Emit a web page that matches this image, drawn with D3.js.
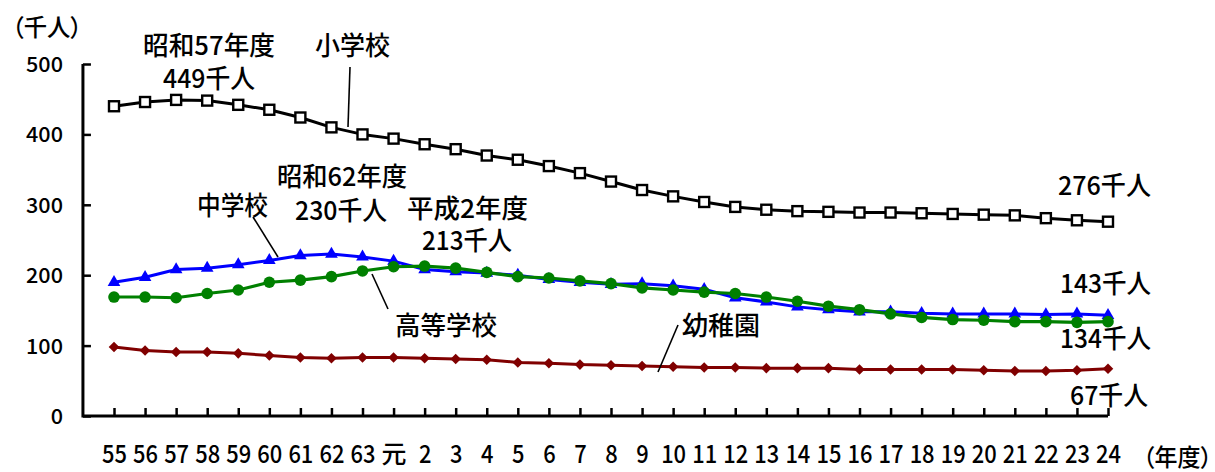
<!DOCTYPE html>
<html>
<head>
<meta charset="utf-8">
<script src="https://cdn.jsdelivr.net/npm/d3@7/dist/d3.min.js"></script>
<style>
  html, body { margin: 0; padding: 0; background: #fff; }
  svg { display: block; }
  text { font-family: "Noto Sans CJK JP", "Noto Sans", sans-serif; fill: #000; font-weight: 500; }
  .palt { font-feature-settings: "palt"; }
</style>
</head>
<body>
<div id="chart"></div>
<script>
// ---- data ----
const categories = ["55","56","57","58","59","60","61","62","63","元",
  "2","3","4","5","6","7","8","9","10","11","12","13","14","15","16","17","18","19","20","21","22","23","24"];
const elementary = [440,446,449,448,442,435,424,410,400,394,
  386,379,370,364,355,345,333,321,312,304,297,293,291,290,289,289,288,287,286,285,281,278,276];
const juniorHigh = [190,197,208,210,215,221,228,230,226,220,
  208,205,203,200,194,190,187,188,185,180,168,162,155,151,148,148,146,145,145,145,144,145,143];
const highSchool = [169,169,168,174,179,190,193,198,206,212,
  213,210,204,198,196,192,188,182,179,176,174,169,163,156,151,145,140,137,136,134,134,133,134];
const kindergarten = [98,93,91,91,89,86,83,82,83,83,
  82,81,80,76,75,73,72,71,70,69,69,68,68,68,66,66,66,66,65,64,64,65,67];
const yTicks = [0,100,200,300,400,500];
const seriesNames = ["小学校","中学校","高等学校","幼稚園"];

// ---- layout ----
const W = 1215, H = 472;
const svg = d3.select("#chart").append("svg").attr("width", W).attr("height", H);

const x = d3.scalePoint().domain(categories).range([114, 1108]);
const y = d3.scaleLinear().domain([0, 500]).range([416, 64]);
const x0 = x(categories[0]) - x.step();
const xEnd = x(categories[categories.length - 1]);

// ---- axes ----
const yAxis = d3.axisLeft(y).tickValues(yTicks).tickSizeInner(-8).tickSizeOuter(0).tickPadding(20);
const gy = svg.append("g").attr("transform", `translate(${x0},0)`).call(yAxis);
gy.select(".domain").remove();
gy.selectAll(".tick line").attr("stroke", "#000").attr("stroke-width", 2.5);
gy.selectAll(".tick text")
  .attr("font-size", 21)
  .attr("font-family", null)
  .attr("dy", "0.36em")
  .attr("x", -20)
  .attr("textLength", d => String(d).length * 12.3)
  .attr("lengthAdjust", "spacingAndGlyphs");

const xAxis = d3.axisBottom(x).tickSizeInner(-8).tickSizeOuter(0);
const gx = svg.append("g").attr("transform", `translate(0,${y(0)})`).call(xAxis);
gx.select(".domain").remove();
gx.selectAll(".tick line").attr("stroke", "#000").attr("stroke-width", 2.5);
gx.selectAll(".tick text")
  .attr("font-size", 25)
  .attr("y", 47)
  .attr("dy", 0)
  .attr("textLength", d => /[0-9]/.test(d) ? d.length * 12.5 : 25)
  .attr("lengthAdjust", "spacingAndGlyphs");
svg.selectAll("g").attr("font-family", null);

// axis lines
svg.append("path")
  .attr("d", `M${x0},${y(500)}V${y(0)}H${xEnd}`)
  .attr("fill", "none").attr("stroke", "#000").attr("stroke-width", 3);

// ---- series ----
const line = d3.line().x((d, i) => x(categories[i])).y(d => y(d));

function drawSeries(values, color, lw, marker) {
  const g = svg.append("g");
  g.append("path").datum(values).attr("d", line)
    .attr("fill", "none").attr("stroke", color).attr("stroke-width", lw)
    .attr("stroke-linejoin", "round");
  const pts = g.selectAll(".pt").data(values).join("g")
    .attr("transform", (d, i) => `translate(${x(categories[i])},${y(d)})`);
  marker(pts);
}

// 小学校: white squares with black border
drawSeries(elementary, "#000", 3, sel => sel.append("rect")
  .attr("x", -5).attr("y", -5).attr("width", 10).attr("height", 10)
  .attr("fill", "#fff").attr("stroke", "#000").attr("stroke-width", 2.4));

// 中学校: blue triangles
drawSeries(juniorHigh, "#0000ff", 3, sel => sel.append("path")
  .attr("d", d3.symbol(d3.symbolTriangle, 70)).attr("fill", "#0000ff"));

// 高等学校: green circles
drawSeries(highSchool, "#008000", 3.2, sel => sel.append("circle")
  .attr("r", 5.8).attr("fill", "#008000"));

// 幼稚園: dark red diamonds
drawSeries(kindergarten, "#800000", 3, sel => sel.append("path")
  .attr("d", d3.symbol(d3.symbolSquare, 56)).attr("transform", "rotate(45)")
  .attr("fill", "#800000"));

// ---- leader lines ----
const leaders = [
  [350, 67, 348, 127],
  [253, 217, 278, 257],
  [372, 274, 388, 309],
  [678, 325, 658, 372]
];
svg.selectAll(".leader").data(leaders).join("line")
  .attr("x1", d => d[0]).attr("y1", d => d[1]).attr("x2", d => d[2]).attr("y2", d => d[3])
  .attr("stroke", "#000").attr("stroke-width", 1.6);

// ---- annotations ----
const annotations = [
  { t: "昭和57年度", x: 143, y: 55, w: 132 },
  { t: "449千人", x: 163, y: 88, w: 92 },
  { t: seriesNames[0], x: 315, y: 55, w: 75 },
  { t: "昭和62年度", x: 277, y: 186, w: 130 },
  { t: "230千人", x: 295, y: 220, w: 92 },
  { t: seriesNames[1], x: 197, y: 215, w: 71 },
  { t: "平成2年度", x: 407, y: 218, w: 121 },
  { t: "213千人", x: 422, y: 250, w: 90 },
  { t: seriesNames[2], x: 395, y: 335, w: 102 },
  { t: seriesNames[3], x: 682, y: 335, w: 78 },
  { t: "276千人", x: 1058, y: 195, w: 93 },
  { t: "143千人", x: 1060, y: 293, w: 91 },
  { t: "134千人", x: 1060, y: 348, w: 91 },
  { t: "67千人", x: 1070, y: 405, w: 78 }
];
svg.selectAll(".ann").data(annotations).join("text")
  .attr("x", d => d.x).attr("y", d => d.y)
  .attr("font-size", 26)
  .attr("textLength", d => d.w)
  .attr("lengthAdjust", "spacingAndGlyphs")
  .text(d => d.t);

// unit labels
svg.append("text").attr("class", "palt").attr("x", 12).attr("y", 36)
  .attr("font-size", 24).attr("textLength", 70).attr("lengthAdjust", "spacingAndGlyphs")
  .text("（千人）");
svg.append("text").attr("class", "palt").attr("x", 1143).attr("y", 466)
  .attr("font-size", 24).attr("textLength", 69).attr("lengthAdjust", "spacingAndGlyphs")
  .text("（年度）");
</script>
</body>
</html>
